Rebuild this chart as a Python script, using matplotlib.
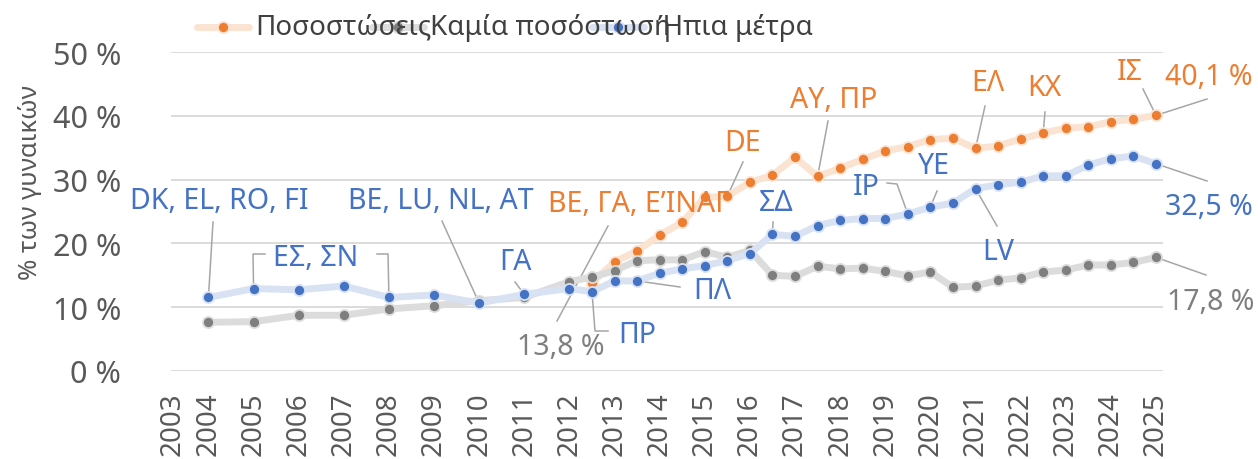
import matplotlib
matplotlib.use("Agg")
import matplotlib.pyplot as plt
from matplotlib.lines import Line2D

plt.rcParams['font.family'] = ['Noto Sans', 'DejaVu Sans']

# -----------------------------------------------------------------------------
# Data: share of women on boards (%), by group of countries
# annual (October) until 2012, then twice a year
# -----------------------------------------------------------------------------
periods = [2004, 2005, 2006, 2007, 2008, 2009, 2010, 2011, 2012,
           2012.5, 2013, 2013.5, 2014, 2014.5, 2015, 2015.5, 2016, 2016.5,
           2017, 2017.5, 2018, 2018.5, 2019, 2019.5, 2020, 2020.5, 2021,
           2021.5, 2022, 2022.5, 2023, 2023.5, 2024, 2024.5, 2025]

quota_periods = periods[9:]
quota = [13.8, 17.1, 18.8, 21.3, 23.3, 27.2, 27.4, 29.6, 30.7, 33.5, 30.5,
         31.8, 33.2, 34.5, 35.2, 36.3, 36.5, 34.9, 35.3, 36.4, 37.3, 38.1,
         38.3, 39.1, 39.5, 40.1]

no_quota = [7.6, 7.7, 8.7, 8.7, 9.7, 10.2, 11.0, 11.5, 14.0,
            14.7, 15.7, 17.3, 17.4, 17.4, 18.7, 17.8, 18.9, 15.0,
            14.8, 16.4, 16.0, 16.1, 15.6, 14.9, 15.5, 13.1, 13.3,
            14.2, 14.6, 15.5, 15.8, 16.6, 16.6, 17.0, 17.8]

soft = [11.5, 12.9, 12.7, 13.3, 11.5, 11.9, 10.6, 12.0, 12.9,
        12.4, 14.1, 14.1, 15.3, 16.0, 16.5, 17.3, 18.4, 21.4,
        21.1, 22.8, 23.6, 23.9, 23.9, 24.6, 25.7, 26.3, 28.6,
        29.2, 29.6, 30.6, 30.6, 32.3, 33.3, 33.7, 32.5]

series_names = ["Ποσοστώσεις", "Καμία ποσόστωση", "Ήπια μέτρα"]
year_labels = [str(y) for y in range(2003, 2026)]

ORANGE, ORANGE_PALE = "#ED7D31", "#FBE3D2"
GREY, GREY_PALE = "#7F7F7F", "#DCDCDC"
BLUE, BLUE_PALE = "#4472C4", "#D9E2F3"
LEADER = "#A6A6A6"
TXT = "#595959"
LBL = 20.5   # size of the data labels

W, H = 1258, 460
fig = plt.figure(figsize=(W / 100, H / 100), dpi=100)
ax = fig.add_axes([171 / W, (H - 371.7) / H, (1163 - 171) / W, (371.7 - 53.3) / H])
ax.set_xlim(2003.17, 2025.155)
ax.set_ylim(0, 50)


def series(x, y, col, pale, z):
    ax.plot(x, y, color=pale, lw=5, zorder=z, solid_capstyle="round",
            marker="o", ms=8, mfc=col, mec=pale, mew=1.3, clip_on=False)


series(quota_periods, quota, ORANGE, ORANGE_PALE, 3)
series(periods, no_quota, GREY, GREY_PALE, 4)
series(periods, soft, BLUE, BLUE_PALE, 5)

# axes styling
ax.set_yticks(range(0, 51, 10))
ax.set_yticklabels([f"{v} %" for v in range(0, 51, 10)])
ax.set_xticks([2003.2] + list(range(2004, 2026)))
ax.set_xticklabels(year_labels, rotation=90)
ax.tick_params(axis="y", length=0, pad=36, labelsize=22, labelcolor=TXT)
ax.tick_params(axis="x", length=0, pad=15, labelsize=20, labelcolor=TXT)
ax.yaxis.grid(True, color="#D9D9D9", lw=1.3, zorder=0)
ax.set_axisbelow(True)
for s in ax.spines.values():
    s.set_visible(False)

fig.text(30 / W, 1 - 183 / H, "% των γυναικών", rotation=90, ha="center",
         va="center", fontsize=18.5, color=TXT)


# helpers working in image pixels (origin top-left)
def P(px, py):
    return ax.transData.inverted().transform((px, H - py))


def pix_leader(pix_points, target):
    pts = [P(*p) for p in pix_points] + [target]
    ax.plot([p[0] for p in pts], [p[1] for p in pts], color=LEADER, lw=1.1,
            zorder=2, clip_on=False)


def label(txt, col, cx, cy, size=LBL):
    x, y = P(cx, cy)
    ax.text(x, y, txt, color=col, fontsize=size, ha="center", va="center",
            zorder=6, clip_on=False)


def s_pt(arr, x_list, yr):
    return (yr, arr[x_list.index(yr)])


# data labels with leader lines
label("DK, EL, RO, FI", BLUE, 219, 202)
pix_leader([(213, 223)], s_pt(soft, periods, 2004))

label("ΕΣ, ΣΝ", BLUE, 316, 259)
pix_leader([(265, 255), (253, 255)], s_pt(soft, periods, 2005))
pix_leader([(377, 255), (388, 255)], s_pt(soft, periods, 2008))

label("BE, LU, NL, AT", BLUE, 441, 202)
pix_leader([(442, 222)], s_pt(soft, periods, 2010))

label("ΓΑ", BLUE, 515, 263)
pix_leader([(515, 283)], s_pt(soft, periods, 2011))

label("BE, ΓΑ, Ε’ΙΝΑΓ", ORANGE, 639, 205)
label("13,8 %", GREY, 561, 348)
pix_leader([(557, 322)], P(608, 227))

label("ΠΡ", BLUE, 637, 336)
pix_leader([(608, 332), (595, 332)], s_pt(soft, periods, 2012.5))

label("ΠΛ", BLUE, 712, 292)
pix_leader([(680, 288)], s_pt(soft, periods, 2013.5))

label("DE", ORANGE, 743, 144)
pix_leader([(743, 163)], s_pt(quota, quota_periods, 2015.5))

label("ΣΔ", BLUE, 776, 204)
pix_leader([(773, 223)], s_pt(soft, periods, 2016.5))

label("ΑΥ, ΠΡ", ORANGE, 834, 101)
pix_leader([(828, 122)], s_pt(quota, quota_periods, 2017.5))

label("ΙΡ", BLUE, 866, 188)
pix_leader([(887, 184), (897, 185)], s_pt(soft, periods, 2019.5))

label("ΥΕ", BLUE, 933, 167)
pix_leader([(937, 192)], s_pt(soft, periods, 2020))

label("LV", BLUE, 998, 253)
pix_leader([(997, 227)], s_pt(soft, periods, 2021))

label("ΕΛ", ORANGE, 988, 84)
pix_leader([(985, 107)], s_pt(quota, quota_periods, 2021))

label("ΚΧ", ORANGE, 1044, 89)
pix_leader([(1045, 113)], s_pt(quota, quota_periods, 2022.5))

label("ΙΣ", ORANGE, 1130, 73)
pix_leader([(1143, 90)], s_pt(quota, quota_periods, 2025))

label("40,1 %", ORANGE, 1209, 78)
pix_leader([(1207, 100)], s_pt(quota, quota_periods, 2025))

label("32,5 %", BLUE, 1209, 208)
pix_leader([(1207, 182)], s_pt(soft, periods, 2025))

label("17,8 %", GREY, 1211, 303)
pix_leader([(1206, 276)], s_pt(no_quota, periods, 2025))

# legend (entries overlap, as in the original)
legend_items = [(223, 255, ORANGE, ORANGE_PALE),
                (398, 430, GREY, GREY_PALE),
                (618, 658, BLUE, BLUE_PALE)]
for name, (mx, tx, col, pale) in zip(series_names, legend_items):
    ly = 1 - 28 / H
    fig.add_artist(Line2D([(mx - 26) / W, (mx + 26) / W], [ly, ly],
                          transform=fig.transFigure, color=pale, lw=5,
                          solid_capstyle="round"))
    fig.add_artist(Line2D([mx / W], [ly], transform=fig.transFigure,
                          marker="o", ms=8, mfc=col, mec=pale, mew=1.3,
                          lw=0))
    fig.text(tx / W, ly, name, fontsize=20, color="#404040", va="center",
             ha="left")

fig.savefig("out.png", dpi=100)
